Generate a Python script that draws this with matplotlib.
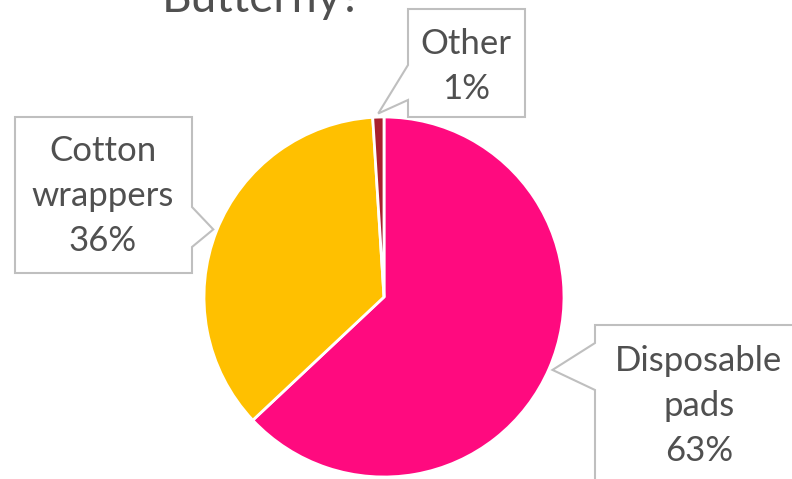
import numpy as np
import matplotlib
matplotlib.use("Agg")
import matplotlib.pyplot as plt
from matplotlib.patches import Polygon

# data
labels = ["Disposable\npads", "Cotton\nwrappers", "Other"]
values = [63, 36, 1]
colors = ["#FF0A7F", "#FFC000", "#A8202E"]
title = "Butterfly?"

W, H = 792, 479
fig = plt.figure(figsize=(W / 100, H / 100), dpi=100)
ax = fig.add_axes([0, 0, 1, 1])

cx, cy, r = 384, H - 297, 180
wedges, _ = ax.pie(values, colors=colors, startangle=90, counterclock=False,
                   center=(cx, cy), radius=r,
                   wedgeprops=dict(edgecolor="white", linewidth=2))
ax.set_xlim(0, W)
ax.set_ylim(0, H)
ax.set_aspect("equal")
ax.axis("off")

# callout boxes (pixel coords, y from top): box, pointer base on edge
boxes = [
    dict(box=(595, 325, 800, 490), side="left", base=(343, 390), text=(699, 406)),
    dict(box=(15, 117, 192, 273), side="right", base=(207, 247), text=(103, 196)),
    dict(box=(408, 9, 525, 117), side="left", base=(65, 100), text=(466, 66)),
]

txt_col = "#505050"
font = "Lato"
for w, v, lab, b in zip(wedges, values, labels, boxes):
    ang = np.deg2rad((w.theta1 + w.theta2) / 2)
    tip = (cx + 1.02 * r * np.cos(ang), cy + 1.02 * r * np.sin(ang))
    x0, y0, x1, y1 = b["box"]
    y0, y1 = H - y0, H - y1
    b0, b1 = H - b["base"][0], H - b["base"][1]
    if b["side"] == "left":
        pts = [(x0, y0), (x1, y0), (x1, y1), (x0, y1), (x0, b1), tip, (x0, b0)]
    else:
        pts = [(x0, y0), (x1, y0), (x1, b0), tip, (x1, b1), (x1, y1), (x0, y1)]
    ax.add_patch(Polygon(pts, closed=True, facecolor="white",
                         edgecolor="#BFBFBF", linewidth=1.5, zorder=3))
    ax.text(b["text"][0], H - b["text"][1], f"{lab}\n{v}%", ha="center",
            va="center", fontsize=25, color=txt_col, family=font,
            linespacing=1.5, zorder=4)

ax.text(262, H - 12, title, ha="center", va="baseline", fontsize=33,
        color=txt_col, family=font)

fig.savefig("out.png", dpi=100)
